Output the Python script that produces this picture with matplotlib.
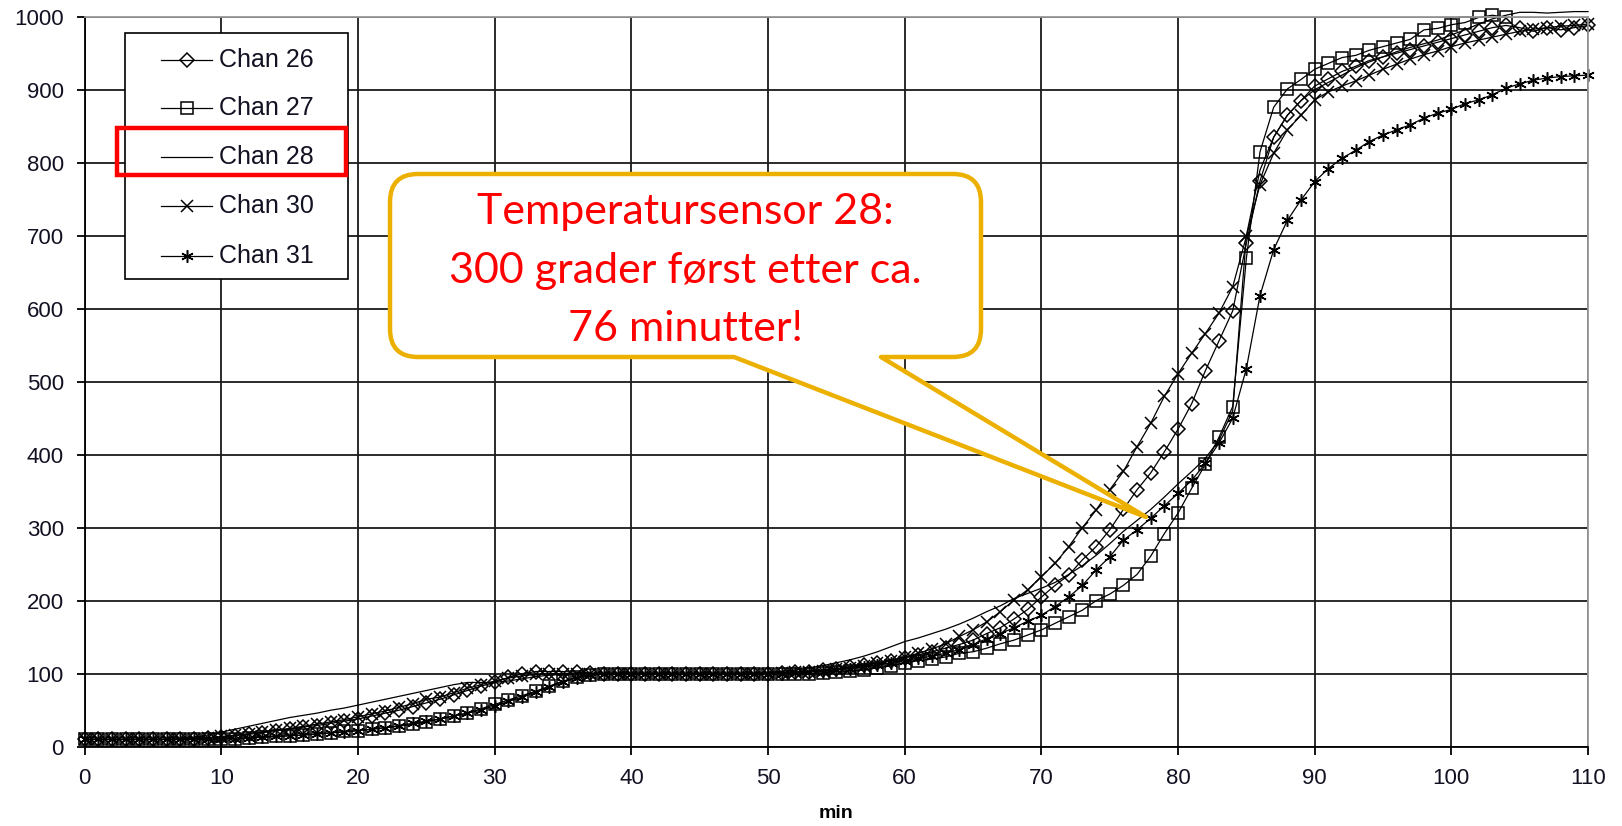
import matplotlib
matplotlib.use("Agg")
import matplotlib.pyplot as plt
from matplotlib.path import Path
from matplotlib.patches import PathPatch, Rectangle
from matplotlib.lines import Line2D

plt.rcParams['font.family'] = ['Liberation Sans', 'DejaVu Sans']

minutes = list(range(111))

chan26 = [10, 10, 10, 10, 10, 10, 10, 10, 11, 12,
          13, 15, 17, 19, 22, 24, 27, 29, 32, 35,
          38, 42, 46, 50, 55, 60, 65, 71, 77, 83,
          88, 95, 100, 103, 103, 103, 102, 101, 100, 100,
          100, 100, 100, 100, 100, 100, 100, 100, 100, 100,
          100, 101, 102, 103, 105, 107, 109, 112, 115, 118,
          122, 126, 130, 135, 140, 146, 155, 163, 175, 188,
          205, 221, 235, 256, 274, 297, 325, 352, 375, 404,
          435, 470, 515, 556, 597, 690, 775, 835, 865, 885,
          905, 915, 925, 932, 940, 945, 950, 955, 960, 965,
          970, 975, 980, 985, 988, 985, 980, 985, 982, 985, 988]

chan27 = [10, 10, 10, 10, 10, 10, 10, 10, 10, 10,
          11, 11, 12, 13, 14, 15, 16, 18, 19, 21,
          22, 24, 26, 28, 31, 34, 38, 42, 46, 52,
          58, 64, 70, 76, 83, 90, 95, 98, 100, 100,
          100, 100, 100, 100, 100, 100, 100, 100, 100, 100,
          100, 100, 100, 100, 101, 103, 104, 105, 108, 111,
          115, 118, 120, 123, 128, 130, 135, 141, 146, 153,
          160, 169, 178, 187, 200, 209, 221, 236, 261, 292,
          320, 354, 387, 424, 466, 669, 815, 876, 901, 914,
          928, 936, 944, 947, 954, 959, 964, 969, 982, 984,
          989, 992, 999, 1002, 999]

chan28 = [10, 10, 10, 10, 10, 10, 10, 11, 13, 16,
          20, 24, 28, 32, 36, 40, 43, 46, 50, 53,
          57, 61, 65, 69, 73, 77, 81, 85, 88, 88,
          88, 90, 93, 96, 98, 99, 100, 100, 100, 100,
          100, 100, 100, 100, 100, 100, 100, 100, 100, 100,
          102, 103, 105, 108, 111, 115, 119, 124, 130, 137,
          144, 149, 155, 161, 168, 176, 185, 193, 203, 210,
          217, 225, 236, 248, 262, 278, 295, 310, 325, 342,
          360, 377, 395, 420, 460, 700, 790, 835, 865, 885,
          900, 910, 920, 930, 938, 945, 952, 958, 963, 968,
          975, 982, 990, 997, 1002, 1006, 1006, 1005, 1006, 1007, 1007]

chan30 = [10, 10, 10, 10, 10, 10, 10, 10, 11, 12,
          14, 16, 18, 20, 23, 25, 28, 31, 34, 37,
          41, 45, 49, 54, 59, 65, 68, 74, 80, 85,
          90, 94, 97, 99, 100, 100, 100, 100, 100, 100,
          100, 100, 100, 100, 100, 100, 100, 100, 100, 100,
          100, 101, 102, 103, 104, 106, 108, 111, 114, 118,
          123, 128, 134, 141, 151, 160, 171, 185, 201, 215,
          233, 251, 274, 300, 324, 352, 377, 411, 443, 480,
          511, 539, 566, 594, 630, 699, 770, 813, 845, 865,
          886, 897, 905, 912, 920, 928, 935, 942, 948, 953,
          959, 964, 968, 972, 976, 980, 983, 985, 987, 988, 990]

chan31 = [10, 10, 10, 10, 10, 10, 10, 10, 10, 10,
          11, 11, 12, 13, 14, 15, 16, 17, 19, 20,
          22, 24, 26, 29, 32, 35, 38, 42, 46, 50,
          56, 62, 68, 75, 82, 89, 94, 98, 100, 100,
          100, 100, 100, 100, 100, 100, 100, 100, 100, 100,
          100, 100, 101, 102, 103, 105, 107, 109, 112, 115,
          118, 121, 124, 128, 133, 140, 148, 155, 163, 172,
          180, 192, 205, 221, 242, 260, 283, 297, 313, 330,
          347, 365, 388, 416, 450, 518, 618, 681, 721, 749,
          774, 792, 806, 817, 829, 838, 845, 852, 861, 868,
          873, 881, 886, 893, 902, 908, 913, 916, 918, 919, 920]

labels = ["Chan 26", "Chan 27", "Chan 28", "Chan 30", "Chan 31"]
x_ticks = list(range(0, 111, 10))
y_ticks = list(range(0, 1001, 100))
callout_lines = ["Temperatursensor 28:", "300 grader først etter ca.", "76 minutter!"]

W, H = 1622, 826
fig = plt.figure(figsize=(W / 100, H / 100), dpi=100)
ax = fig.add_axes([84.8 / W, 1 - 746.7 / H, 1503.2 / W, 730 / H])

common = dict(color='black', lw=0.9, mec='black', mew=1.1, clip_on=False)
styles = [dict(marker='D', ms=7.5, mfc='none'),
          dict(marker='s', ms=9, mfc='none'),
          dict(),
          dict(marker='x', ms=9),
          dict(marker=(6, 2, 0), ms=9)]
series = [chan26, chan27, chan28, chan30, chan31]
for vals, lab, st in zip(series, labels, styles):
    ax.plot(minutes[:len(vals)], vals, label=lab, **st, **common)

ax.set_xlim(0, 110)
ax.set_ylim(0, 1000)
ax.set_xticks(x_ticks)
ax.set_yticks(y_ticks)
ax.grid(True, color='#1a1a1a', lw=1.3)
ax.set_axisbelow(True)
ax.tick_params(axis='both', direction='out', length=6, width=1.3, labelsize=16,
               color='black', labelcolor='#111122')
ax.tick_params(axis='x', pad=9)
ax.tick_params(axis='y', pad=9)
for s in ['left', 'bottom']:
    ax.spines[s].set_color('black')
    ax.spines[s].set_linewidth(1.3)
for s in ['top', 'right']:
    ax.spines[s].set_color('#999999')
    ax.spines[s].set_linewidth(1.3)
ax.set_xlabel('min', fontsize=14, fontweight='bold', labelpad=12)


def fp(x, y):
    return (x / W, 1 - y / H)


# legend box (drawn by hand to match the original layout)
lx0, ly0, lx1, ly1 = 125.5, 33, 348, 279
frame = Rectangle(fp(lx0, ly1), (lx1 - lx0) / W, (ly1 - ly0) / H,
                  transform=fig.transFigure, facecolor='white',
                  edgecolor='black', lw=1.2, zorder=10)
fig.add_artist(frame)
for lab, st, yy in zip(labels, styles, [60, 108, 157, 206, 256]):
    (hx0, hy), (hx1, _) = fp(161, yy), fp(212, yy)
    fig.add_artist(Line2D([hx0, hx1], [hy, hy], transform=fig.transFigure,
                          color='black', lw=0.9, zorder=11))
    if st:
        mx, my = fp(186.5, yy)
        fig.add_artist(Line2D([mx], [my], transform=fig.transFigure,
                              linestyle='none', mec='black', mew=1.1,
                              color='black', zorder=12, **st))
    fig.text(219 / W, 1 - yy / H, lab, ha='left', va='center', fontsize=18,
             color='#111122', zorder=12)

# red highlight around "Chan 28"
rect = Rectangle(fp(117, 175), 229 / W, 47 / H, transform=fig.transFigure,
                 fill=False, edgecolor='#ff0000', lw=3.2, zorder=20)
fig.add_artist(rect)

# callout bubble
L, T, R, B, r = 390, 174, 981, 357, 28
pts = [(L + r, T), (R - r, T), (R, T), (R, T + r), (R, B - r), (R, B), (R - r, B),
       (881, B), (1146, 517), (734, B), (L + r, B), (L, B), (L, B - r),
       (L, T + r), (L, T), (L + r, T), (L + r, T)]
codes = [Path.MOVETO, Path.LINETO, Path.CURVE3, Path.CURVE3, Path.LINETO,
         Path.CURVE3, Path.CURVE3, Path.LINETO, Path.LINETO, Path.LINETO,
         Path.LINETO, Path.CURVE3, Path.CURVE3, Path.LINETO, Path.CURVE3,
         Path.CURVE3, Path.CLOSEPOLY]
bubble = PathPatch(Path([fp(*p) for p in pts], codes), transform=fig.transFigure,
                   facecolor='white', edgecolor='#EBB000', lw=3.2,
                   joinstyle='round', zorder=30)
fig.add_artist(bubble)

for line, yy in zip(callout_lines, [212, 271, 329]):
    fig.text(685.5 / W, 1 - yy / H, line, ha='center', va='center',
             fontsize=31, color='#ff0000', family=['Lato', 'DejaVu Sans'],
             zorder=31)

fig.savefig('out.png', dpi=100)
